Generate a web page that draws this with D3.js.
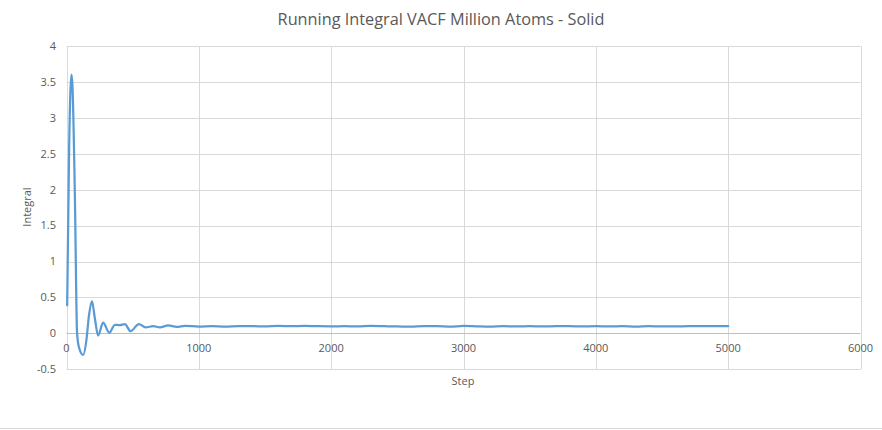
<!DOCTYPE html>
<html><head><meta charset="utf-8">
<script src="https://cdn.jsdelivr.net/npm/d3@7"></script>
<style>
html,body{margin:0;padding:0;background:#fff;}
svg{display:block;font-family:"Open Sans","Noto Sans",sans-serif;}
</style></head>
<body><svg id="c" width="882" height="430"></svg>
<script>
const title = "Running Integral VACF Million Atoms - Solid";
const xLabel = "Step";
const yLabel = "Integral";
const xTicks = [0,1000,2000,3000,4000,5000,6000];
const yTicks = [-0.5,0,0.5,1,1.5,2,2.5,3,3.5,4];
const steps = [5,20,38,45,63,80,95,126,150,170,192,215,239,277,323,366,404,441,484,547,597,655,706,769,832,895,
  1000,1100,1200,1300,1400,1500,1600,1700,1800,1900,2000,2100,2200,2300,2400,2500,2600,2700,2800,2900,
  3000,3100,3200,3300,3400,3500,3600,3700,3800,3900,4000,4100,4200,4300,4400,4500,4600,4700,4800,4900,5000];
const integral = [0.39,2.6,3.6,3.45,1.95,0.0,-0.2,-0.3,-0.1,0.25,0.45,0.2,-0.03,0.15,0.01,0.12,0.115,0.13,0.03,0.13,0.085,0.1,0.085,0.11,0.09,0.105,
  0.095,0.1,0.095,0.1,0.1,0.098,0.105,0.1,0.105,0.1,0.098,0.1,0.097,0.103,0.1,0.097,0.093,0.1,0.1,0.095,
  0.103,0.097,0.093,0.1,0.097,0.1,0.098,0.1,0.1,0.098,0.1,0.097,0.1,0.095,0.1,0.097,0.097,0.1,0.1,0.102,0.1];

const svg = d3.select("#c");
const L=66.5, R=860.5, T=46, B=369.3;
const x = d3.scaleLinear().domain([0,6000]).range([L,R]);
const y = d3.scaleLinear().domain([-0.5,4]).range([B,T]);
const txt = "#595959";

svg.append("g").selectAll("line").data(yTicks.filter(d=>d!==0)).join("line")
  .attr("x1",L).attr("x2",R).attr("y1",d=>Math.round(y(d))+0.5).attr("y2",d=>Math.round(y(d))+0.5)
  .attr("stroke","#d9d9d9").attr("stroke-width",1);
svg.append("g").selectAll("line").data(xTicks).join("line")
  .attr("x1",d=>Math.round(x(d))+0.5).attr("x2",d=>Math.round(x(d))+0.5).attr("y1",T).attr("y2",B)
  .attr("stroke","#d9d9d9").attr("stroke-width",1);
svg.append("line").attr("x1",L).attr("x2",R).attr("y1",Math.round(y(0))+0.5).attr("y2",Math.round(y(0))+0.5)
  .attr("stroke","#bfbfbf").attr("stroke-width",1);

svg.append("g").selectAll("text").data(yTicks).join("text")
  .attr("x",56).attr("y",d=>y(d)).attr("dy","0.35em").attr("text-anchor","end")
  .attr("font-size",11).attr("fill",txt).text(d=>d);
svg.append("g").selectAll("text").data(xTicks).join("text")
  .attr("x",d=>x(d)).attr("y",y(0)+19).attr("text-anchor","middle")
  .attr("font-size",11).attr("fill",txt).text(d=>d);

svg.append("text").attr("x",441).attr("y",25).attr("text-anchor","middle")
  .attr("font-size",16.3).attr("fill",txt).text(title);
svg.append("text").attr("x",463).attr("y",385).attr("text-anchor","middle")
  .attr("font-size",11).attr("fill",txt).text(xLabel);
svg.append("text").attr("transform","translate(31,207) rotate(-90)").attr("text-anchor","middle")
  .attr("font-size",11).attr("fill",txt).text(yLabel);

const pts = steps.map((s,i)=>[s,integral[i]]);
svg.append("path").datum(pts)
  .attr("d",d3.line().x(d=>x(d[0])).y(d=>y(d[1])).curve(d3.curveMonotoneX))
  .attr("fill","none").attr("stroke","#5b9bd5").attr("stroke-width",2.25).attr("stroke-linejoin","round").attr("stroke-linecap","round");

svg.append("line").attr("x1",0).attr("x2",882).attr("y1",428.5).attr("y2",428.5).attr("stroke","#d9d9d9");
</script></body></html>
